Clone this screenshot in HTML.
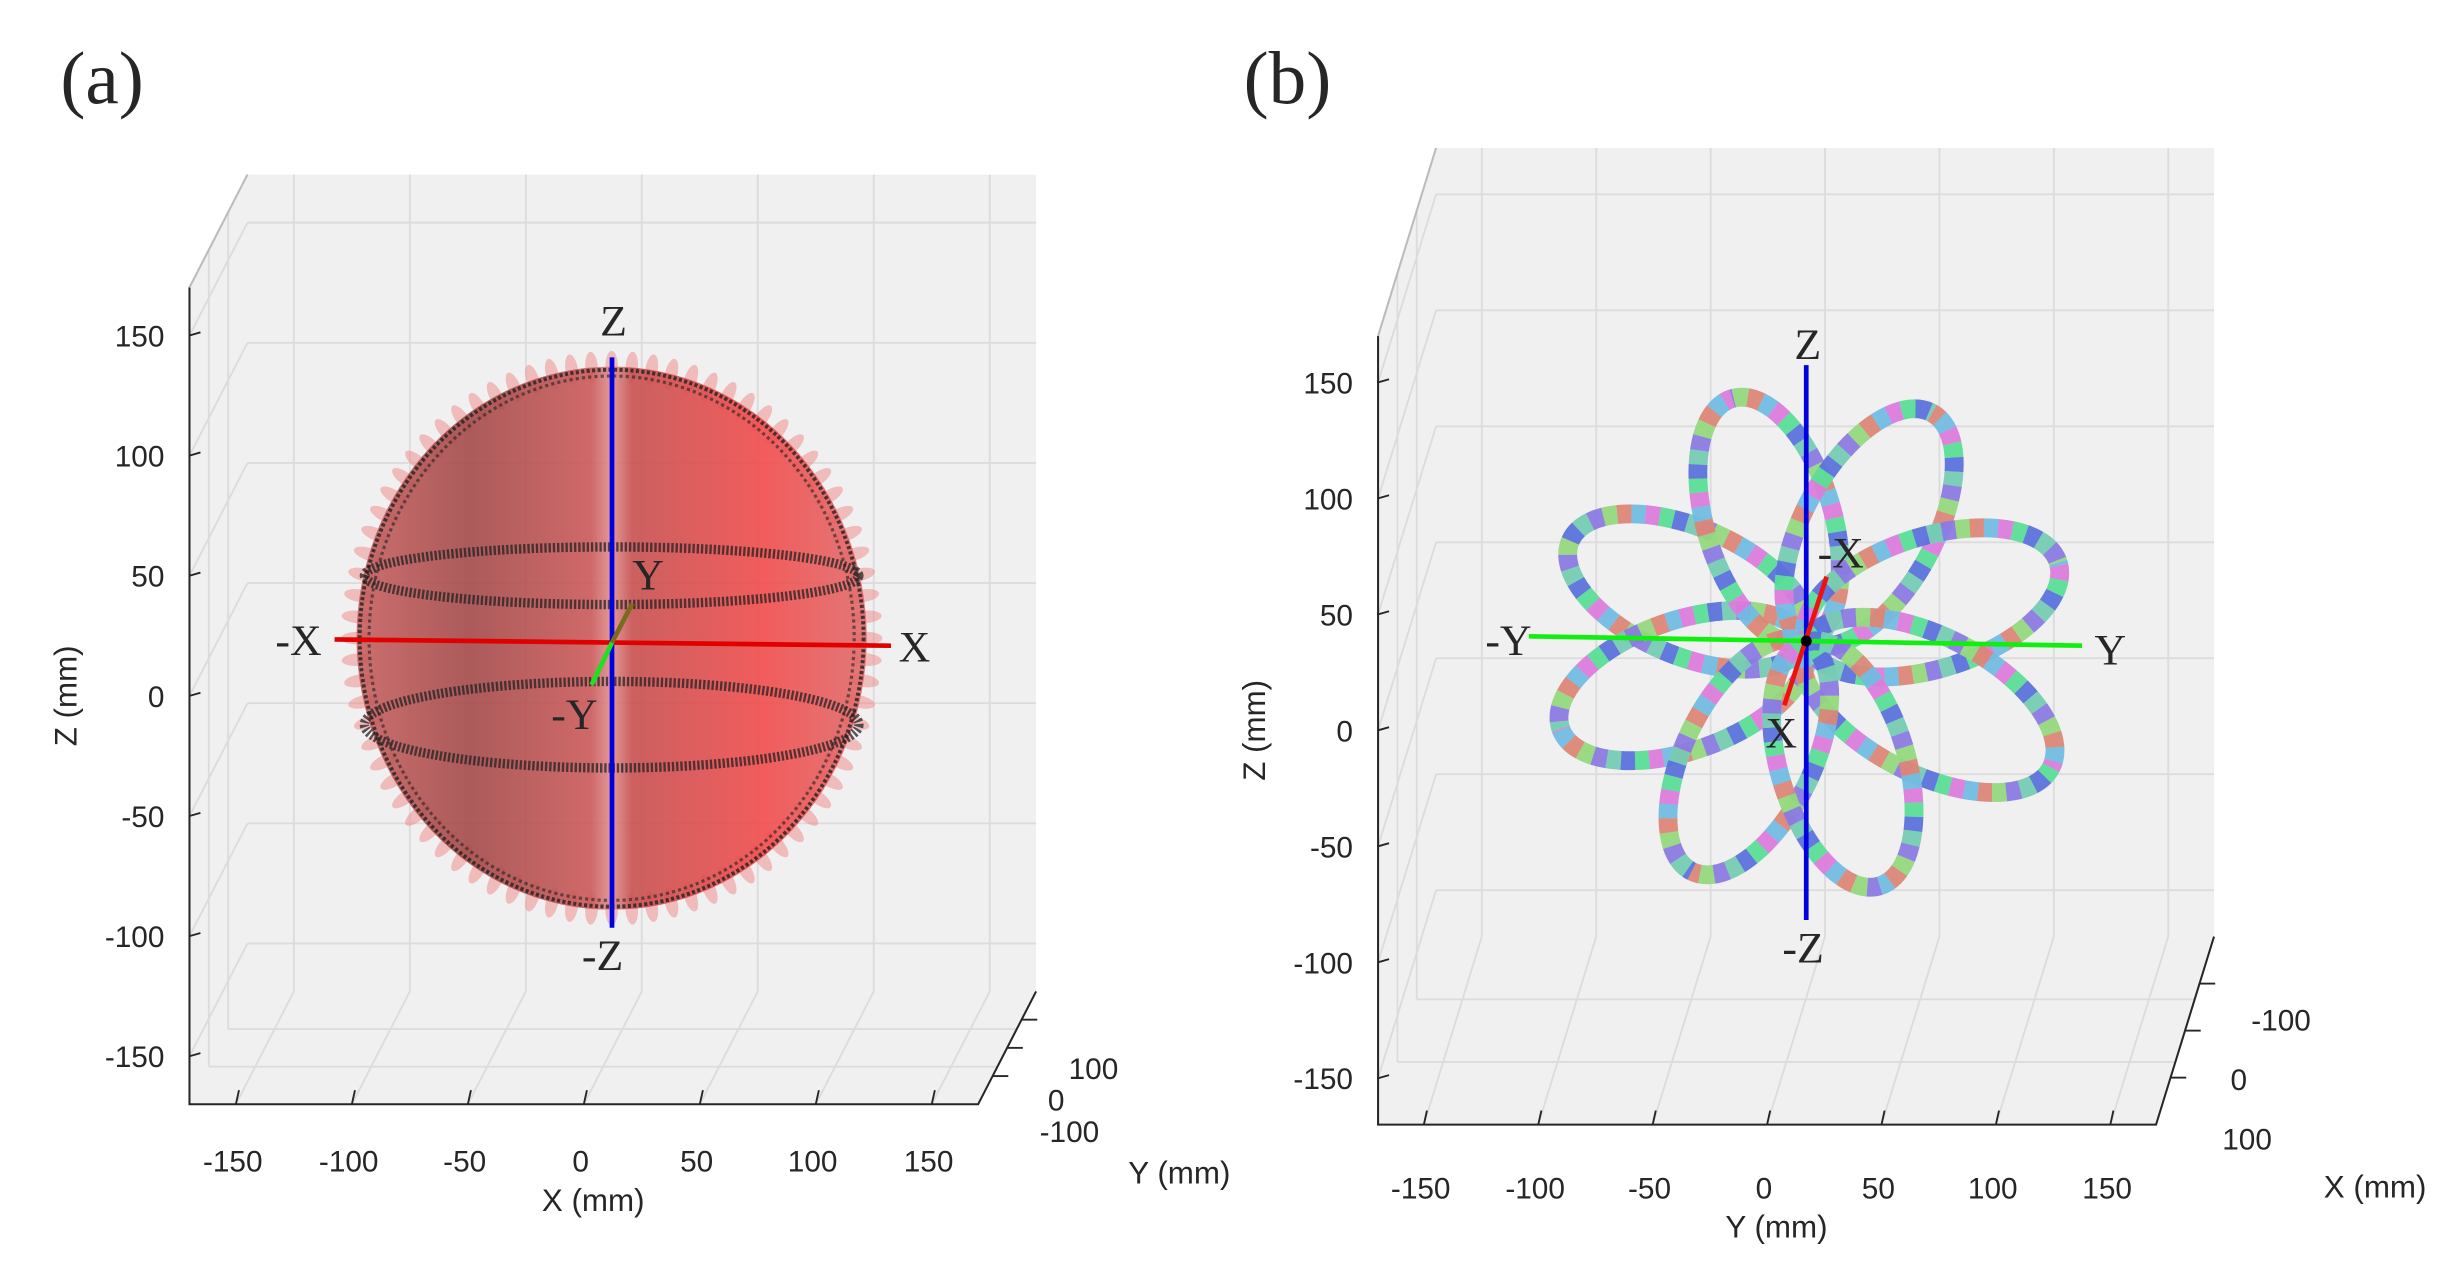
<!DOCTYPE html>
<html><head><meta charset="utf-8"><style>
html,body{margin:0;padding:0;background:#fff}
svg{display:block}
text{font-family:"Liberation Sans",sans-serif;fill:#262626}
.serif{font-family:"Liberation Serif",serif}
</style></head><body>
<svg id="fig" width="2459" height="1282" viewBox="0 0 1568 818" xmlns="http://www.w3.org/2000/svg">
<defs>
<linearGradient id="sph" x1="0" x2="1" y1="0" y2="0">
<stop offset="0" stop-color="#c86060"/><stop offset="0.22" stop-color="#a44a4a"/><stop offset="0.46" stop-color="#cc5a5a"/><stop offset="0.5" stop-color="#e09090"/><stop offset="0.54" stop-color="#c85050"/><stop offset="0.8" stop-color="#f24c4c"/><stop offset="1" stop-color="#e06a6a"/>
</linearGradient>
</defs>
<g id="pa"></g>
<g id="pb"></g>
</svg>
<script>
const NS="http://www.w3.org/2000/svg";
// shared tick values
const tickValues=[-150,-100,-50,0,50,100,150];
const tickLabels=["-150","-100","-50","0","50","100","150"];
const depthTicksA=["100","0","-100"];
const depthTicksB=["-100","0","100"];
// panel a data: sphere rings (z center mm, ry mm)
const ringZ=[50,-12];
const ringRy=[12,18];
const sphereRadius=[112,115];
// panel b data: petal tips (horizontal mm, z mm)
const petalH=[-99,-103,-31,53,106,103,-48,31];
const petalZ=[42,-36,101,95,33,-52,-95,-101];
const ribbonColors=["#3a4fd8","#3be07a","#e85cd8","#5ab0e0","#e86a50","#8ad85a","#7a5ae0","#60c8a0"];

function el(p,tag,a){const e=document.createElementNS(NS,tag);for(const k in a)e.setAttribute(k,a[k]);p.appendChild(e);return e;}
function txt(p,x,y,s,a){const t=el(p,"text",Object.assign({x:x,y:y},a||{}));t.textContent=s;return t;}

function drawBox(g,c){
 const F=(h,z)=>[c.cx+c.sx*h,c.cz-c.sz*z];
 const B=(h,z)=>{const f=F(h,z);return [f[0]+c.ox,f[1]+c.oy];};
 const L=170;
 const pts=[F(-L,L),B(-L,L),B(L,L),B(L,-L),F(L,-L),F(-L,-L)];
 const bg=el(g,"polygon",{points:pts.map(p=>p.join(",")).join(" "),fill:"#f0f0f0"});
 
 
 const gs={stroke:"#dcdcdc","stroke-width":1.2};
 tickValues.forEach(v=>{
  let a=B(v,L),b=B(v,-L);el(g,"line",Object.assign({x1:a[0],y1:a[1],x2:b[0],y2:b[1]},gs));
  a=B(-L,v);b=B(L,v);el(g,"line",Object.assign({x1:a[0],y1:a[1],x2:b[0],y2:b[1]},gs));
  a=B(v,-L);b=F(v,-L);el(g,"line",Object.assign({x1:a[0],y1:a[1],x2:b[0],y2:b[1]},gs));
  a=B(-L,v);b=F(-L,v);el(g,"line",Object.assign({x1:a[0],y1:a[1],x2:b[0],y2:b[1]},gs));
 });
 for(let i=1;i<=2;i++){const t=i/3;const a=[F(-L,-L)[0]+c.ox*t,F(-L,-L)[1]+c.oy*t],b=[F(L,-L)[0]+c.ox*t,F(L,-L)[1]+c.oy*t];el(g,"line",Object.assign({x1:a[0],y1:a[1],x2:b[0],y2:b[1]},gs));
  const a2=[F(-L,L)[0]+c.ox*t,F(-L,L)[1]+c.oy*t];el(g,"line",Object.assign({x1:a2[0],y1:a2[1],x2:a[0],y2:a[1]},gs));}
 const ax={stroke:"#262626","stroke-width":1.3,fill:"none"};
 let p1=F(-L,L),p2=F(-L,-L),p3=F(L,-L),p4=B(L,-L);
 el(g,"polyline",Object.assign({points:[p1,p2,p3,p4].map(p=>p.join(",")).join(" ")},ax));
 const tl=B(-L,L);el(g,"line",Object.assign({x1:p1[0],y1:p1[1],x2:tl[0],y2:tl[1]},ax,{stroke:"#bbb"}));
 tickValues.forEach((v,i)=>{
  const z=F(-L,v);el(g,"line",{x1:z[0],y1:z[1],x2:z[0]+7,y2:z[1]-2,stroke:"#262626","stroke-width":1.2});
  const zl=txt(g,z[0]-16,z[1]+7,tickLabels[i],{"text-anchor":"end","font-size":19});
  
  
  const h=F(v,-L);el(g,"line",{x1:h[0],y1:h[1],x2:h[0]+2,y2:h[1]-9,stroke:"#262626","stroke-width":1.2});
  const hl=txt(g,h[0]-2,h[1]+c.hly,tickLabels[i],{"text-anchor":"middle","font-size":19});
  
  
 });
 c.depth.forEach((s,i)=>{
  const t=1-(i+1)/4;const b=F(L,-L);const x=b[0]+c.ox*t,y=b[1]+c.oy*t;
  el(g,"line",{x1:x,y1:y,x2:x+10,y2:y,stroke:"#262626","stroke-width":1.2});
  const dl=txt(g,x+14+(s==="0"?0:4)+c.dlo[0],y+8+c.dlo[1]+i*c.dlo[2],s,{"font-size":19});
  
  
 });
 const hx=F(0,-L);
 const t1=txt(g,hx[0]+6,hx[1]+c.hly+25,c.hlabel,{"text-anchor":"middle","font-size":20});
 
 
 const t2=txt(g,0,0,"Z (mm)",{"text-anchor":"middle","font-size":20});
 t2.setAttribute('transform',`translate(${F(-L,0)[0]-72},${c.cz}) rotate(-90)`);
 
 
 const t3=txt(g,c.dlx,c.dly,c.dlabel,{"text-anchor":"middle","font-size":20});
 
 
 return F;
}

// Panel a
const ga=document.getElementById("pa");
const la=txt(ga,38,66,"(a)",{"font-size":48,class:"serif",fill:"#000"});


const FA=drawBox(ga,{cx:372,cz:444,sx:1.48,sz:1.533,ox:37,oy:-72,depth:depthTicksA,hlabel:"X (mm)",dlabel:"Y (mm)",dlx:752,dly:755,hly:43,dlo:[12,30,2]});
{
 const c=FA(12,24);const rx=sphereRadius[0]*1.48,ry=sphereRadius[1]*1.533;
 const pet=el(ga,"g",{});
 
 
 for(let a=0;a<360;a+=4.5){const r=a*Math.PI/180;const x=c[0]+(rx-3)*Math.cos(r),y=c[1]+(ry-3)*Math.sin(r);
  el(pet,"ellipse",{cx:x,cy:y,rx:4,ry:10,fill:"#ee7a7a","fill-opacity":0.45,transform:`rotate(${a+90} ${x} ${y})`});}
 const s=el(ga,"ellipse",{cx:c[0],cy:c[1],rx:rx-3,ry:ry-3,fill:"url(#sph)","fill-opacity":0.9});
 
 
 el(ga,"ellipse",{cx:c[0],cy:c[1],rx:rx-5,ry:ry-5,fill:"none",stroke:"#222","stroke-width":2.5,"stroke-dasharray":"2 1.5","stroke-opacity":0.8});
 el(ga,"ellipse",{cx:c[0],cy:c[1],rx:rx-11,ry:ry-9,fill:"none",stroke:"#222","stroke-width":2,"stroke-dasharray":"2 2","stroke-opacity":0.6});
 ringZ.forEach((z,i)=>{const p=FA(12,z);const r=el(ga,"ellipse",{cx:p[0],cy:p[1],rx:rx-8,ry:ringRy[i]*1.533,fill:"none",stroke:"#222","stroke-width":6,"stroke-dasharray":"1.5 1.2","stroke-opacity":0.75});
  
  });
 const xl=el(ga,"line",{x1:213,y1:408,x2:568,y2:412,stroke:"#e00000","stroke-width":3});
 
 const zl=el(ga,"line",{x1:390,y1:228,x2:390,y2:592,stroke:"#0000e0","stroke-width":3});
 
 el(ga,"line",{x1:390,y1:410,x2:403,y2:385,stroke:"#7a6a20","stroke-width":3});
 const yl=el(ga,"line",{x1:377,y1:437,x2:390,y2:410,stroke:"#20e020","stroke-width":3});
 
 const L=[["-X",190,418,"#f01010"],["X",583,422,"#f01010"],["Z",391,214,"#1010f0"],["-Z",384,619,"#1010f0"],["Y",413,376,"#80c060"],["-Y",366,465,"#40d040"]];
 L.forEach(l=>{const t=txt(ga,l[1],l[2],l[0],{"text-anchor":"middle","font-size":28,class:"serif",fill:l[3]});
  });
}

// Panel b
const gb=document.getElementById("pb");
const lb=txt(gb,793,66,"(b)",{"font-size":48,class:"serif",fill:"#000"});


const FB=drawBox(gb,{cx:1127,cz:466,sx:1.46,sz:1.48,ox:37,oy:-120,depth:depthTicksB,hlabel:"Y (mm)",dlabel:"X (mm)",dlx:1515,dly:764,hly:47,dlo:[15,22,8]});
{
 const c0=FB(17,38);
 petalH.forEach((h,i)=>{
  const tp=FB(17+petalH[i],38+petalZ[i]);
  const dx=tp[0]-c0[0],dy=tp[1]-c0[1];const len=Math.hypot(dx,dy);const ang=Math.atan2(dy,dx)*180/Math.PI;
  const cx=c0[0]+dx*0.52,cy=c0[1]+dy*0.52;
  const g=el(gb,"g",{transform:`rotate(${ang} ${cx} ${cy})`});
  
  
  const rx=len*0.52,ry=len*0.26;
  el(g,"ellipse",{cx:cx,cy:cy,rx:rx,ry:ry,fill:"none",stroke:"#b8d8e8","stroke-width":12,"stroke-opacity":0.8});
  ribbonColors.forEach((col,k)=>{
   el(g,"ellipse",{cx:cx,cy:cy,rx:rx,ry:ry,fill:"none",stroke:col,"stroke-width":12,"stroke-opacity":0.7,"stroke-dasharray":"9 63","stroke-dashoffset":k*9+i*13});
  });
 });
 const yl=el(gb,"line",{x1:975,y1:406,x2:1328,y2:412,stroke:"#10f010","stroke-width":3});
 
 const zl=el(gb,"line",{x1:1152,y1:233,x2:1152,y2:587,stroke:"#0000e0","stroke-width":3});
 
 const xl=el(gb,"line",{x1:1138,y1:450,x2:1165,y2:368,stroke:"#f01010","stroke-width":3});
 
 el(gb,"circle",{cx:1152,cy:409,r:3.5,fill:"#000"});
 const L=[["-Y",962,418,"#40e040"],["Y",1346,424,"#40e040"],["Z",1153,229,"#1010f0"],["-Z",1150,614,"#1010f0"],["-X",1174,362,"#f01010"],["X",1136,477,"#f01010"]];
 L.forEach(l=>{const t=txt(gb,l[1],l[2],l[0],{"text-anchor":"middle","font-size":28,class:"serif",fill:l[3]});
  });
}
</script>
</body></html>
